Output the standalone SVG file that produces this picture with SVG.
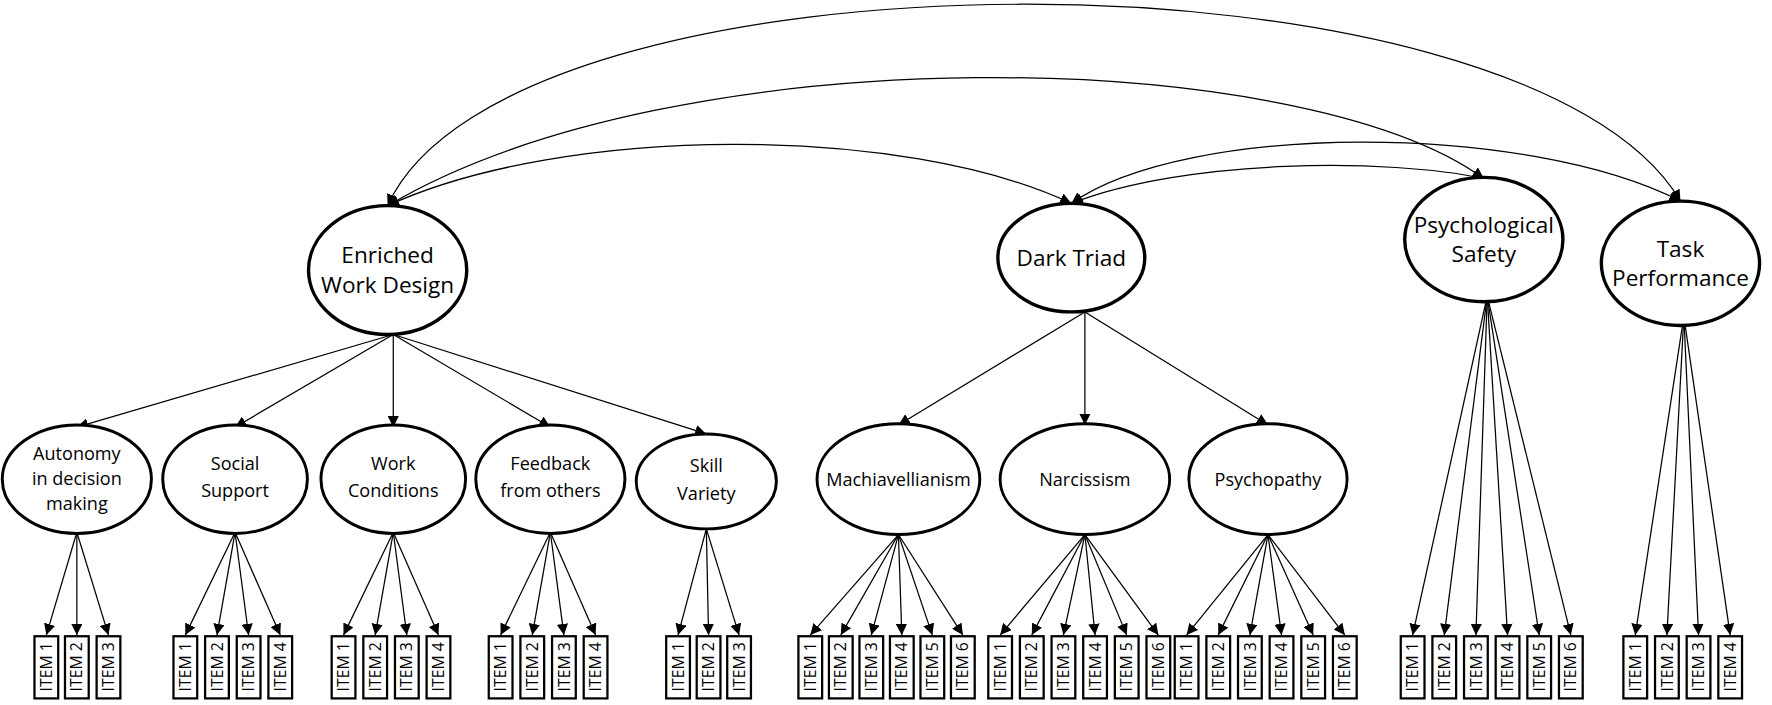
<svg xmlns="http://www.w3.org/2000/svg" width="1772" height="705" viewBox="0 0 1772 705">
<defs>
<marker id="a" viewBox="0 0 10 10" refX="10" refY="5" markerWidth="10" markerHeight="10" markerUnits="userSpaceOnUse" orient="auto-start-reverse"><path d="M0,0L10,5L0,10z" fill="#000"/></marker>
<style>
.e{fill:#fff;stroke:#000;stroke-width:3}
.s{fill:#fff;stroke:#000;stroke-width:2.6}
.b{fill:#fff;stroke:#000;stroke-width:2}
.c{fill:none;stroke:#000;stroke-width:1.1;marker-end:url(#a)}
.d{fill:none;stroke:#000;stroke-width:1.1;marker-end:url(#a);marker-start:url(#a)}
text{font-family:"Open Sans","Liberation Sans",sans-serif;text-anchor:middle;fill:#000}
.L{font-size:20px}.M{font-size:16px}.I{font-size:14px}
</style>
</defs>
<rect width="1772" height="705" fill="#fff"/>
<g transform="scale(1.1301)">
<g id="connectors">
<path class="d" d="M343,182C450,-55 1350,-55 1487,178"/>
<path class="d" d="M343,182C600,30 1150,40 1313,158"/>
<path class="d" d="M343,182C500,110 800,110 948,180"/>
<path class="d" d="M948,180C1050,140 1230,140 1313,158"/>
<path class="d" d="M948,180C1050,108 1350,108 1487,178"/>
<path class="c" d="M348,296L68,378"/><path class="c" d="M348,296L208,378"/><path class="c" d="M348,296L348,378"/><path class="c" d="M348,296L487,378"/><path class="c" d="M348,296L625,384"/>
<path class="c" d="M960,276L795,376"/><path class="c" d="M960,276L960,376"/><path class="c" d="M960,276L1122,376"/>
<path class="c" d="M68,471L41,562"/><path class="c" d="M68,471L68,562"/><path class="c" d="M68,471L96,562"/>
<path class="c" d="M208,471L164,562"/><path class="c" d="M208,471L192,562"/><path class="c" d="M208,471L220,562"/><path class="c" d="M208,471L248,562"/>
<path class="c" d="M348,471L304,562"/><path class="c" d="M348,471L332,562"/><path class="c" d="M348,471L360,562"/><path class="c" d="M348,471L388,562"/>
<path class="c" d="M487,471L443,562"/><path class="c" d="M487,471L471,562"/><path class="c" d="M487,471L499,562"/><path class="c" d="M487,471L527,562"/>
<path class="c" d="M625,468L600,562"/><path class="c" d="M625,468L627,562"/><path class="c" d="M625,468L654,562"/>
<path class="c" d="M795,473L717,562"/><path class="c" d="M795,473L744,562"/><path class="c" d="M795,473L771,562"/><path class="c" d="M795,473L798,562"/><path class="c" d="M795,473L825,562"/><path class="c" d="M795,473L852,562"/>
<path class="c" d="M960,473L885,562"/><path class="c" d="M960,473L913,562"/><path class="c" d="M960,473L941,562"/><path class="c" d="M960,473L969,562"/><path class="c" d="M960,473L997,562"/><path class="c" d="M960,473L1025,562"/>
<path class="c" d="M1122,473L1050,562"/><path class="c" d="M1122,473L1078,562"/><path class="c" d="M1122,473L1106,562"/><path class="c" d="M1122,473L1134,562"/><path class="c" d="M1122,473L1162,562"/><path class="c" d="M1122,473L1190,562"/>
<path class="c" d="M1316,262L1250,562"/><path class="c" d="M1316,262L1278,562"/><path class="c" d="M1316,262L1306,562"/><path class="c" d="M1316,262L1334,562"/><path class="c" d="M1316,262L1362,562"/><path class="c" d="M1316,262L1390,562"/>
<path class="c" d="M1490,280L1447,562"/><path class="c" d="M1490,280L1475,562"/><path class="c" d="M1490,280L1503,562"/><path class="c" d="M1490,280L1531,562"/>
</g>
<g id="ewd"><ellipse class="e" cx="343" cy="239" rx="70" ry="57"/><text class="L" x="343" y="233">Enriched</text><text class="L" x="343" y="259">Work Design</text></g>
<g id="dt"><ellipse class="e" cx="948" cy="228" rx="65" ry="48"/><text class="L" x="948" y="235">Dark Triad</text></g>
<g id="ps"><ellipse class="e" cx="1313" cy="212" rx="70" ry="55"/><text class="L" x="1313" y="206">Psychological</text><text class="L" x="1313" y="232">Safety</text></g>
<g id="tp"><ellipse class="e" cx="1487" cy="233" rx="70" ry="55"/><text class="L" x="1487" y="227">Task</text><text class="L" x="1487" y="253">Performance</text></g>
<g id="aut"><ellipse class="s" cx="68" cy="424" rx="66" ry="48"/><text class="M" x="68" y="407">Autonomy</text><text class="M" x="68" y="429">in decision</text><text class="M" x="68" y="451">making</text></g>
<g id="ss"><ellipse class="s" cx="208" cy="424" rx="64" ry="48"/><text class="M" x="208" y="416">Social</text><text class="M" x="208" y="440">Support</text></g>
<g id="wc"><ellipse class="s" cx="348" cy="424" rx="64" ry="48"/><text class="M" x="348" y="416">Work</text><text class="M" x="348" y="440">Conditions</text></g>
<g id="fb"><ellipse class="s" cx="487" cy="424" rx="66" ry="48"/><text class="M" x="487" y="416">Feedback</text><text class="M" x="487" y="440">from others</text></g>
<g id="sv"><ellipse class="s" cx="625" cy="426" rx="62" ry="42"/><text class="M" x="625" y="418">Skill</text><text class="M" x="625" y="442">Variety</text></g>
<g id="mach"><ellipse class="s" cx="795" cy="424" rx="72" ry="49"/><text class="M" x="795" y="430">Machiavellianism</text></g>
<g id="narc"><ellipse class="s" cx="960" cy="424" rx="75" ry="49"/><text class="M" x="960" y="430">Narcissism</text></g>
<g id="psy"><ellipse class="s" cx="1122" cy="424" rx="70" ry="49"/><text class="M" x="1122" y="430">Psychopathy</text></g>
<g id="items">
<g transform="translate(41,590)"><rect class="b" x="-10.5" y="-27" width="21" height="55"/><text class="I" transform="rotate(-90) translate(0,5)">ITEM 1</text></g>
<g transform="translate(68,590)"><rect class="b" x="-10.5" y="-27" width="21" height="55"/><text class="I" transform="rotate(-90) translate(0,5)">ITEM 2</text></g>
<g transform="translate(96,590)"><rect class="b" x="-10.5" y="-27" width="21" height="55"/><text class="I" transform="rotate(-90) translate(0,5)">ITEM 3</text></g>
<g transform="translate(164,590)"><rect class="b" x="-10.5" y="-27" width="21" height="55"/><text class="I" transform="rotate(-90) translate(0,5)">ITEM 1</text></g>
<g transform="translate(192,590)"><rect class="b" x="-10.5" y="-27" width="21" height="55"/><text class="I" transform="rotate(-90) translate(0,5)">ITEM 2</text></g>
<g transform="translate(220,590)"><rect class="b" x="-10.5" y="-27" width="21" height="55"/><text class="I" transform="rotate(-90) translate(0,5)">ITEM 3</text></g>
<g transform="translate(248,590)"><rect class="b" x="-10.5" y="-27" width="21" height="55"/><text class="I" transform="rotate(-90) translate(0,5)">ITEM 4</text></g>
<g transform="translate(304,590)"><rect class="b" x="-10.5" y="-27" width="21" height="55"/><text class="I" transform="rotate(-90) translate(0,5)">ITEM 1</text></g>
<g transform="translate(332,590)"><rect class="b" x="-10.5" y="-27" width="21" height="55"/><text class="I" transform="rotate(-90) translate(0,5)">ITEM 2</text></g>
<g transform="translate(360,590)"><rect class="b" x="-10.5" y="-27" width="21" height="55"/><text class="I" transform="rotate(-90) translate(0,5)">ITEM 3</text></g>
<g transform="translate(388,590)"><rect class="b" x="-10.5" y="-27" width="21" height="55"/><text class="I" transform="rotate(-90) translate(0,5)">ITEM 4</text></g>
<g transform="translate(443,590)"><rect class="b" x="-10.5" y="-27" width="21" height="55"/><text class="I" transform="rotate(-90) translate(0,5)">ITEM 1</text></g>
<g transform="translate(471,590)"><rect class="b" x="-10.5" y="-27" width="21" height="55"/><text class="I" transform="rotate(-90) translate(0,5)">ITEM 2</text></g>
<g transform="translate(499,590)"><rect class="b" x="-10.5" y="-27" width="21" height="55"/><text class="I" transform="rotate(-90) translate(0,5)">ITEM 3</text></g>
<g transform="translate(527,590)"><rect class="b" x="-10.5" y="-27" width="21" height="55"/><text class="I" transform="rotate(-90) translate(0,5)">ITEM 4</text></g>
<g transform="translate(600,590)"><rect class="b" x="-10.5" y="-27" width="21" height="55"/><text class="I" transform="rotate(-90) translate(0,5)">ITEM 1</text></g>
<g transform="translate(627,590)"><rect class="b" x="-10.5" y="-27" width="21" height="55"/><text class="I" transform="rotate(-90) translate(0,5)">ITEM 2</text></g>
<g transform="translate(654,590)"><rect class="b" x="-10.5" y="-27" width="21" height="55"/><text class="I" transform="rotate(-90) translate(0,5)">ITEM 3</text></g>
<g transform="translate(717,590)"><rect class="b" x="-10.5" y="-27" width="21" height="55"/><text class="I" transform="rotate(-90) translate(0,5)">ITEM 1</text></g>
<g transform="translate(744,590)"><rect class="b" x="-10.5" y="-27" width="21" height="55"/><text class="I" transform="rotate(-90) translate(0,5)">ITEM 2</text></g>
<g transform="translate(771,590)"><rect class="b" x="-10.5" y="-27" width="21" height="55"/><text class="I" transform="rotate(-90) translate(0,5)">ITEM 3</text></g>
<g transform="translate(798,590)"><rect class="b" x="-10.5" y="-27" width="21" height="55"/><text class="I" transform="rotate(-90) translate(0,5)">ITEM 4</text></g>
<g transform="translate(825,590)"><rect class="b" x="-10.5" y="-27" width="21" height="55"/><text class="I" transform="rotate(-90) translate(0,5)">ITEM 5</text></g>
<g transform="translate(852,590)"><rect class="b" x="-10.5" y="-27" width="21" height="55"/><text class="I" transform="rotate(-90) translate(0,5)">ITEM 6</text></g>
<g transform="translate(885,590)"><rect class="b" x="-10.5" y="-27" width="21" height="55"/><text class="I" transform="rotate(-90) translate(0,5)">ITEM 1</text></g>
<g transform="translate(913,590)"><rect class="b" x="-10.5" y="-27" width="21" height="55"/><text class="I" transform="rotate(-90) translate(0,5)">ITEM 2</text></g>
<g transform="translate(941,590)"><rect class="b" x="-10.5" y="-27" width="21" height="55"/><text class="I" transform="rotate(-90) translate(0,5)">ITEM 3</text></g>
<g transform="translate(969,590)"><rect class="b" x="-10.5" y="-27" width="21" height="55"/><text class="I" transform="rotate(-90) translate(0,5)">ITEM 4</text></g>
<g transform="translate(997,590)"><rect class="b" x="-10.5" y="-27" width="21" height="55"/><text class="I" transform="rotate(-90) translate(0,5)">ITEM 5</text></g>
<g transform="translate(1025,590)"><rect class="b" x="-10.5" y="-27" width="21" height="55"/><text class="I" transform="rotate(-90) translate(0,5)">ITEM 6</text></g>
<g transform="translate(1050,590)"><rect class="b" x="-10.5" y="-27" width="21" height="55"/><text class="I" transform="rotate(-90) translate(0,5)">ITEM 1</text></g>
<g transform="translate(1078,590)"><rect class="b" x="-10.5" y="-27" width="21" height="55"/><text class="I" transform="rotate(-90) translate(0,5)">ITEM 2</text></g>
<g transform="translate(1106,590)"><rect class="b" x="-10.5" y="-27" width="21" height="55"/><text class="I" transform="rotate(-90) translate(0,5)">ITEM 3</text></g>
<g transform="translate(1134,590)"><rect class="b" x="-10.5" y="-27" width="21" height="55"/><text class="I" transform="rotate(-90) translate(0,5)">ITEM 4</text></g>
<g transform="translate(1162,590)"><rect class="b" x="-10.5" y="-27" width="21" height="55"/><text class="I" transform="rotate(-90) translate(0,5)">ITEM 5</text></g>
<g transform="translate(1190,590)"><rect class="b" x="-10.5" y="-27" width="21" height="55"/><text class="I" transform="rotate(-90) translate(0,5)">ITEM 6</text></g>
<g transform="translate(1250,590)"><rect class="b" x="-10.5" y="-27" width="21" height="55"/><text class="I" transform="rotate(-90) translate(0,5)">ITEM 1</text></g>
<g transform="translate(1278,590)"><rect class="b" x="-10.5" y="-27" width="21" height="55"/><text class="I" transform="rotate(-90) translate(0,5)">ITEM 2</text></g>
<g transform="translate(1306,590)"><rect class="b" x="-10.5" y="-27" width="21" height="55"/><text class="I" transform="rotate(-90) translate(0,5)">ITEM 3</text></g>
<g transform="translate(1334,590)"><rect class="b" x="-10.5" y="-27" width="21" height="55"/><text class="I" transform="rotate(-90) translate(0,5)">ITEM 4</text></g>
<g transform="translate(1362,590)"><rect class="b" x="-10.5" y="-27" width="21" height="55"/><text class="I" transform="rotate(-90) translate(0,5)">ITEM 5</text></g>
<g transform="translate(1390,590)"><rect class="b" x="-10.5" y="-27" width="21" height="55"/><text class="I" transform="rotate(-90) translate(0,5)">ITEM 6</text></g>
<g transform="translate(1447,590)"><rect class="b" x="-10.5" y="-27" width="21" height="55"/><text class="I" transform="rotate(-90) translate(0,5)">ITEM 1</text></g>
<g transform="translate(1475,590)"><rect class="b" x="-10.5" y="-27" width="21" height="55"/><text class="I" transform="rotate(-90) translate(0,5)">ITEM 2</text></g>
<g transform="translate(1503,590)"><rect class="b" x="-10.5" y="-27" width="21" height="55"/><text class="I" transform="rotate(-90) translate(0,5)">ITEM 3</text></g>
<g transform="translate(1531,590)"><rect class="b" x="-10.5" y="-27" width="21" height="55"/><text class="I" transform="rotate(-90) translate(0,5)">ITEM 4</text></g>
</g>
</g>
</svg>
